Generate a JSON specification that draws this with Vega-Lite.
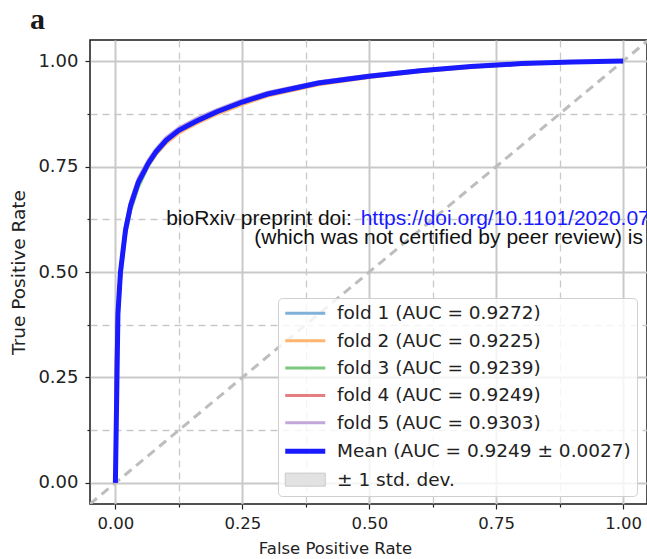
{
  "$schema": "https://vega.github.io/schema/vega-lite/v6.json",
  "width": 557,
  "height": 464,
  "autosize": {"type": "none"},
  "padding": {"left": 90, "top": 40, "right": 0, "bottom": 55},
  "background": "white",
  "config": {
    "view": {"stroke": "#1a1a1a", "strokeWidth": 1.5},
    "axis": {
      "domain": false,
      "grid": true,
      "gridColor": "#c9c9c9",
      "gridWidth": {"condition": {"test": "datum.value % 0.25 === 0", "value": 2}, "value": 1.3},
      "gridDash": {"condition": {"test": "datum.value % 0.25 === 0", "value": []}, "value": [7, 5]},
      "tickSize": {"condition": {"test": "datum.value % 0.25 === 0", "value": 5}, "value": 3},
      "tickColor": "#222222",
      "tickWidth": 1.2,
      "labelExpr": "datum.value % 0.25 === 0 ? format(datum.value, '.2f') : ''",
      "labelOverlap": false,
      "labelFlush": false,
      "labelFont": "DejaVu Sans",
      "labelColor": "#222222",
      "titleFont": "DejaVu Sans",
      "titleFontSize": 16.5,
      "titleFontWeight": "normal",
      "titleColor": "#222222"
    }
  },
  "datasets": {
    "diag": [{"v": -0.05}, {"v": 1.05}],
    "notes": [{"t": "x"}],
    "folds": [
      {"series": "fold 1 (AUC = 0.9272)", "fpr": 0, "tpr": 0},
      {"series": "fold 1 (AUC = 0.9272)", "fpr": 0.001, "tpr": 0.22},
      {"series": "fold 1 (AUC = 0.9272)", "fpr": 0.002, "tpr": 0.3},
      {"series": "fold 1 (AUC = 0.9272)", "fpr": 0.005, "tpr": 0.4},
      {"series": "fold 1 (AUC = 0.9272)", "fpr": 0.01, "tpr": 0.5},
      {"series": "fold 1 (AUC = 0.9272)", "fpr": 0.015, "tpr": 0.552},
      {"series": "fold 1 (AUC = 0.9272)", "fpr": 0.02, "tpr": 0.602},
      {"series": "fold 1 (AUC = 0.9272)", "fpr": 0.03, "tpr": 0.66},
      {"series": "fold 1 (AUC = 0.9272)", "fpr": 0.045, "tpr": 0.714},
      {"series": "fold 1 (AUC = 0.9272)", "fpr": 0.065, "tpr": 0.76},
      {"series": "fold 1 (AUC = 0.9272)", "fpr": 0.08, "tpr": 0.787},
      {"series": "fold 1 (AUC = 0.9272)", "fpr": 0.1, "tpr": 0.814},
      {"series": "fold 1 (AUC = 0.9272)", "fpr": 0.125, "tpr": 0.838},
      {"series": "fold 1 (AUC = 0.9272)", "fpr": 0.16, "tpr": 0.86},
      {"series": "fold 1 (AUC = 0.9272)", "fpr": 0.2, "tpr": 0.882},
      {"series": "fold 1 (AUC = 0.9272)", "fpr": 0.25, "tpr": 0.905},
      {"series": "fold 1 (AUC = 0.9272)", "fpr": 0.3, "tpr": 0.924},
      {"series": "fold 1 (AUC = 0.9272)", "fpr": 0.4, "tpr": 0.949},
      {"series": "fold 1 (AUC = 0.9272)", "fpr": 0.5, "tpr": 0.965},
      {"series": "fold 1 (AUC = 0.9272)", "fpr": 0.6, "tpr": 0.978},
      {"series": "fold 1 (AUC = 0.9272)", "fpr": 0.7, "tpr": 0.987},
      {"series": "fold 1 (AUC = 0.9272)", "fpr": 0.8, "tpr": 0.994},
      {"series": "fold 1 (AUC = 0.9272)", "fpr": 0.9, "tpr": 0.998},
      {"series": "fold 1 (AUC = 0.9272)", "fpr": 1.0, "tpr": 1.0},
      {"series": "fold 2 (AUC = 0.9225)", "fpr": 0, "tpr": 0},
      {"series": "fold 2 (AUC = 0.9225)", "fpr": 0.001, "tpr": 0.23},
      {"series": "fold 2 (AUC = 0.9225)", "fpr": 0.002, "tpr": 0.31},
      {"series": "fold 2 (AUC = 0.9225)", "fpr": 0.005, "tpr": 0.41},
      {"series": "fold 2 (AUC = 0.9225)", "fpr": 0.01, "tpr": 0.5},
      {"series": "fold 2 (AUC = 0.9225)", "fpr": 0.015, "tpr": 0.548},
      {"series": "fold 2 (AUC = 0.9225)", "fpr": 0.02, "tpr": 0.594},
      {"series": "fold 2 (AUC = 0.9225)", "fpr": 0.03, "tpr": 0.65},
      {"series": "fold 2 (AUC = 0.9225)", "fpr": 0.045, "tpr": 0.705},
      {"series": "fold 2 (AUC = 0.9225)", "fpr": 0.065, "tpr": 0.751},
      {"series": "fold 2 (AUC = 0.9225)", "fpr": 0.08, "tpr": 0.778},
      {"series": "fold 2 (AUC = 0.9225)", "fpr": 0.1, "tpr": 0.805},
      {"series": "fold 2 (AUC = 0.9225)", "fpr": 0.125, "tpr": 0.829},
      {"series": "fold 2 (AUC = 0.9225)", "fpr": 0.16, "tpr": 0.852},
      {"series": "fold 2 (AUC = 0.9225)", "fpr": 0.2, "tpr": 0.874},
      {"series": "fold 2 (AUC = 0.9225)", "fpr": 0.25, "tpr": 0.897},
      {"series": "fold 2 (AUC = 0.9225)", "fpr": 0.3, "tpr": 0.917},
      {"series": "fold 2 (AUC = 0.9225)", "fpr": 0.4, "tpr": 0.944},
      {"series": "fold 2 (AUC = 0.9225)", "fpr": 0.5, "tpr": 0.961},
      {"series": "fold 2 (AUC = 0.9225)", "fpr": 0.6, "tpr": 0.975},
      {"series": "fold 2 (AUC = 0.9225)", "fpr": 0.7, "tpr": 0.985},
      {"series": "fold 2 (AUC = 0.9225)", "fpr": 0.8, "tpr": 0.993},
      {"series": "fold 2 (AUC = 0.9225)", "fpr": 0.9, "tpr": 0.997},
      {"series": "fold 2 (AUC = 0.9225)", "fpr": 1.0, "tpr": 1.0},
      {"series": "fold 3 (AUC = 0.9239)", "fpr": 0, "tpr": 0},
      {"series": "fold 3 (AUC = 0.9239)", "fpr": 0.001, "tpr": 0.2},
      {"series": "fold 3 (AUC = 0.9239)", "fpr": 0.002, "tpr": 0.28},
      {"series": "fold 3 (AUC = 0.9239)", "fpr": 0.005, "tpr": 0.38},
      {"series": "fold 3 (AUC = 0.9239)", "fpr": 0.01, "tpr": 0.48},
      {"series": "fold 3 (AUC = 0.9239)", "fpr": 0.015, "tpr": 0.535},
      {"series": "fold 3 (AUC = 0.9239)", "fpr": 0.02, "tpr": 0.588},
      {"series": "fold 3 (AUC = 0.9239)", "fpr": 0.03, "tpr": 0.645},
      {"series": "fold 3 (AUC = 0.9239)", "fpr": 0.045, "tpr": 0.7},
      {"series": "fold 3 (AUC = 0.9239)", "fpr": 0.065, "tpr": 0.752},
      {"series": "fold 3 (AUC = 0.9239)", "fpr": 0.08, "tpr": 0.781},
      {"series": "fold 3 (AUC = 0.9239)", "fpr": 0.1, "tpr": 0.809},
      {"series": "fold 3 (AUC = 0.9239)", "fpr": 0.125, "tpr": 0.834},
      {"series": "fold 3 (AUC = 0.9239)", "fpr": 0.16, "tpr": 0.856},
      {"series": "fold 3 (AUC = 0.9239)", "fpr": 0.2, "tpr": 0.878},
      {"series": "fold 3 (AUC = 0.9239)", "fpr": 0.25, "tpr": 0.901},
      {"series": "fold 3 (AUC = 0.9239)", "fpr": 0.3, "tpr": 0.921},
      {"series": "fold 3 (AUC = 0.9239)", "fpr": 0.4, "tpr": 0.947},
      {"series": "fold 3 (AUC = 0.9239)", "fpr": 0.5, "tpr": 0.963},
      {"series": "fold 3 (AUC = 0.9239)", "fpr": 0.6, "tpr": 0.976},
      {"series": "fold 3 (AUC = 0.9239)", "fpr": 0.7, "tpr": 0.986},
      {"series": "fold 3 (AUC = 0.9239)", "fpr": 0.8, "tpr": 0.993},
      {"series": "fold 3 (AUC = 0.9239)", "fpr": 0.9, "tpr": 0.998},
      {"series": "fold 3 (AUC = 0.9239)", "fpr": 1.0, "tpr": 1.0},
      {"series": "fold 4 (AUC = 0.9249)", "fpr": 0, "tpr": 0},
      {"series": "fold 4 (AUC = 0.9249)", "fpr": 0.001, "tpr": 0.24},
      {"series": "fold 4 (AUC = 0.9249)", "fpr": 0.002, "tpr": 0.32},
      {"series": "fold 4 (AUC = 0.9249)", "fpr": 0.005, "tpr": 0.42},
      {"series": "fold 4 (AUC = 0.9249)", "fpr": 0.01, "tpr": 0.51},
      {"series": "fold 4 (AUC = 0.9249)", "fpr": 0.015, "tpr": 0.555},
      {"series": "fold 4 (AUC = 0.9249)", "fpr": 0.02, "tpr": 0.6},
      {"series": "fold 4 (AUC = 0.9249)", "fpr": 0.03, "tpr": 0.657},
      {"series": "fold 4 (AUC = 0.9249)", "fpr": 0.045, "tpr": 0.711},
      {"series": "fold 4 (AUC = 0.9249)", "fpr": 0.065, "tpr": 0.757},
      {"series": "fold 4 (AUC = 0.9249)", "fpr": 0.08, "tpr": 0.784},
      {"series": "fold 4 (AUC = 0.9249)", "fpr": 0.1, "tpr": 0.811},
      {"series": "fold 4 (AUC = 0.9249)", "fpr": 0.125, "tpr": 0.835},
      {"series": "fold 4 (AUC = 0.9249)", "fpr": 0.16, "tpr": 0.857},
      {"series": "fold 4 (AUC = 0.9249)", "fpr": 0.2, "tpr": 0.879},
      {"series": "fold 4 (AUC = 0.9249)", "fpr": 0.25, "tpr": 0.902},
      {"series": "fold 4 (AUC = 0.9249)", "fpr": 0.3, "tpr": 0.922},
      {"series": "fold 4 (AUC = 0.9249)", "fpr": 0.4, "tpr": 0.948},
      {"series": "fold 4 (AUC = 0.9249)", "fpr": 0.5, "tpr": 0.964},
      {"series": "fold 4 (AUC = 0.9249)", "fpr": 0.6, "tpr": 0.977},
      {"series": "fold 4 (AUC = 0.9249)", "fpr": 0.7, "tpr": 0.987},
      {"series": "fold 4 (AUC = 0.9249)", "fpr": 0.8, "tpr": 0.994},
      {"series": "fold 4 (AUC = 0.9249)", "fpr": 0.9, "tpr": 0.998},
      {"series": "fold 4 (AUC = 0.9249)", "fpr": 1.0, "tpr": 1.0},
      {"series": "fold 5 (AUC = 0.9303)", "fpr": 0, "tpr": 0},
      {"series": "fold 5 (AUC = 0.9303)", "fpr": 0.001, "tpr": 0.21},
      {"series": "fold 5 (AUC = 0.9303)", "fpr": 0.002, "tpr": 0.3},
      {"series": "fold 5 (AUC = 0.9303)", "fpr": 0.005, "tpr": 0.41},
      {"series": "fold 5 (AUC = 0.9303)", "fpr": 0.01, "tpr": 0.51},
      {"series": "fold 5 (AUC = 0.9303)", "fpr": 0.015, "tpr": 0.56},
      {"series": "fold 5 (AUC = 0.9303)", "fpr": 0.02, "tpr": 0.61},
      {"series": "fold 5 (AUC = 0.9303)", "fpr": 0.03, "tpr": 0.668},
      {"series": "fold 5 (AUC = 0.9303)", "fpr": 0.045, "tpr": 0.722},
      {"series": "fold 5 (AUC = 0.9303)", "fpr": 0.065, "tpr": 0.766},
      {"series": "fold 5 (AUC = 0.9303)", "fpr": 0.08, "tpr": 0.792},
      {"series": "fold 5 (AUC = 0.9303)", "fpr": 0.1, "tpr": 0.819},
      {"series": "fold 5 (AUC = 0.9303)", "fpr": 0.125, "tpr": 0.842},
      {"series": "fold 5 (AUC = 0.9303)", "fpr": 0.16, "tpr": 0.864},
      {"series": "fold 5 (AUC = 0.9303)", "fpr": 0.2, "tpr": 0.885},
      {"series": "fold 5 (AUC = 0.9303)", "fpr": 0.25, "tpr": 0.908},
      {"series": "fold 5 (AUC = 0.9303)", "fpr": 0.3, "tpr": 0.926},
      {"series": "fold 5 (AUC = 0.9303)", "fpr": 0.4, "tpr": 0.951},
      {"series": "fold 5 (AUC = 0.9303)", "fpr": 0.5, "tpr": 0.967},
      {"series": "fold 5 (AUC = 0.9303)", "fpr": 0.6, "tpr": 0.979},
      {"series": "fold 5 (AUC = 0.9303)", "fpr": 0.7, "tpr": 0.988},
      {"series": "fold 5 (AUC = 0.9303)", "fpr": 0.8, "tpr": 0.995},
      {"series": "fold 5 (AUC = 0.9303)", "fpr": 0.9, "tpr": 0.998},
      {"series": "fold 5 (AUC = 0.9303)", "fpr": 1.0, "tpr": 1.0}
    ],
    "mean": [
      {"fpr": 0, "tpr": 0, "lo": 0, "hi": 0},
      {"fpr": 0.005, "tpr": 0.4, "lo": 0.385, "hi": 0.415},
      {"fpr": 0.01, "tpr": 0.5, "lo": 0.49, "hi": 0.51},
      {"fpr": 0.02, "tpr": 0.6, "lo": 0.592, "hi": 0.608},
      {"fpr": 0.03, "tpr": 0.658, "lo": 0.65, "hi": 0.666},
      {"fpr": 0.045, "tpr": 0.712, "lo": 0.705, "hi": 0.719},
      {"fpr": 0.065, "tpr": 0.758, "lo": 0.752, "hi": 0.764},
      {"fpr": 0.08, "tpr": 0.785, "lo": 0.779, "hi": 0.791},
      {"fpr": 0.1, "tpr": 0.812, "lo": 0.806, "hi": 0.818},
      {"fpr": 0.125, "tpr": 0.836, "lo": 0.831, "hi": 0.841},
      {"fpr": 0.16, "tpr": 0.858, "lo": 0.853, "hi": 0.863},
      {"fpr": 0.2, "tpr": 0.88, "lo": 0.875, "hi": 0.885},
      {"fpr": 0.25, "tpr": 0.903, "lo": 0.898, "hi": 0.908},
      {"fpr": 0.3, "tpr": 0.922, "lo": 0.918, "hi": 0.926},
      {"fpr": 0.4, "tpr": 0.948, "lo": 0.945, "hi": 0.951},
      {"fpr": 0.5, "tpr": 0.964, "lo": 0.962, "hi": 0.966},
      {"fpr": 0.6, "tpr": 0.977, "lo": 0.975, "hi": 0.979},
      {"fpr": 0.7, "tpr": 0.987, "lo": 0.986, "hi": 0.988},
      {"fpr": 0.8, "tpr": 0.994, "lo": 0.993, "hi": 0.995},
      {"fpr": 0.9, "tpr": 0.998, "lo": 0.997, "hi": 0.999},
      {"fpr": 1.0, "tpr": 1.0, "lo": 1.0, "hi": 1.0}
    ]
  },
  "layer": [
    {
      "data": {"name": "diag"},
      "mark": {"type": "line", "clip": true, "color": "#bdbdbd", "strokeWidth": 3, "strokeDash": [9, 6]},
      "encoding": {
        "x": {"field": "v", "type": "quantitative",
          "scale": {"domain": [-0.05, 1.047], "nice": false, "zero": false},
          "axis": {"title": "False Positive Rate", "values": [0, 0.125, 0.25, 0.375, 0.5, 0.625, 0.75, 0.875, 1], "labelFontSize": 16.5, "labelPadding": 6, "titleX": 245, "titleY": 49, "titleBaseline": "alphabetic"}},
        "y": {"field": "v", "type": "quantitative",
          "scale": {"domain": [-0.05, 1.05], "nice": false, "zero": false},
          "axis": {"title": "True Positive Rate", "values": [0, 0.125, 0.25, 0.375, 0.5, 0.625, 0.75, 0.875, 1], "labelFontSize": 18, "labelPadding": 7, "titleFontSize": 18.5, "titleX": -66, "titleBaseline": "alphabetic"}}
      }
    },
    {
      "data": {"name": "folds"},
      "mark": {"type": "line", "strokeWidth": 3},
      "encoding": {
        "x": {"field": "fpr", "type": "quantitative"},
        "y": {"field": "tpr", "type": "quantitative"},
        "color": {"field": "series", "type": "nominal",
          "scale": {
            "domain": ["fold 1 (AUC = 0.9272)", "fold 2 (AUC = 0.9225)", "fold 3 (AUC = 0.9239)", "fold 4 (AUC = 0.9249)", "fold 5 (AUC = 0.9303)", "Mean (AUC = 0.9249 ± 0.0027)", "± 1 std. dev."],
            "range": ["#7fb1d9", "#ffb46f", "#7dc87d", "#e67e7f", "#c2a7d9", "#1a1aff", "#c9c9c9"]
          },
          "legend": {
            "title": null,
            "orient": "none",
            "legendX": 188,
            "legendY": 258,
            "padding": 6,
            "rowPadding": 8.4,
            "fillColor": "rgba(255,255,255,0.8)",
            "strokeColor": "#d0d0d0",
            "cornerRadius": 4,
            "symbolType": "M-1.6,0H6.4",
            "symbolSize": 100,
            "symbolStrokeWidth": 3,
            "labelOffset": 34.5,
            "labelFont": "DejaVu Sans",
            "labelFontSize": 18.5,
            "labelColor": "#222222",
            "labelLimit": 400,
            "encode": {
              "symbols": {
                "update": {
                  "shape": {"signal": "datum.value === '± 1 std. dev.' ? 'M-1.6,-1.3H6.4V1.3H-1.6Z' : 'M-1.6,0H6.4'"},
                  "fill": {"signal": "datum.value === '± 1 std. dev.' ? '#e2e2e2' : 'transparent'"},
                  "strokeWidth": {"signal": "datum.value === '± 1 std. dev.' ? 1 : (datum.value === 'Mean (AUC = 0.9249 ± 0.0027)' ? 5 : 3)"}
                }
              }
            }
          }
        }
      }
    },
    {
      "data": {"name": "mean"},
      "mark": {"type": "area", "opacity": 0.6, "color": "#c9c9c9"},
      "encoding": {
        "x": {"field": "fpr", "type": "quantitative"},
        "y": {"field": "lo", "type": "quantitative"},
        "y2": {"field": "hi"}
      }
    },
    {
      "data": {"name": "mean"},
      "mark": {"type": "line", "strokeWidth": 5, "color": "#1a1aff"},
      "encoding": {
        "x": {"field": "fpr", "type": "quantitative"},
        "y": {"field": "tpr", "type": "quantitative"}
      }
    },
    {
      "data": {"name": "notes"},
      "mark": {"type": "text", "align": "left", "baseline": "alphabetic", "font": "Liberation Serif", "fontSize": 30, "fontWeight": "bold", "color": "#1a1a1a", "text": "a"},
      "encoding": {
        "x": {"datum": -0.168, "type": "quantitative"},
        "y": {"datum": 1.076, "type": "quantitative"}
      }
    },
    {
      "data": {"name": "notes"},
      "mark": {"type": "text", "align": "left", "baseline": "alphabetic", "font": "Liberation Sans", "fontSize": 21, "color": "#111111", "text": "bioRxiv preprint doi: "},
      "encoding": {
        "x": {"datum": 0.1, "type": "quantitative"},
        "y": {"datum": 0.612, "type": "quantitative"}
      }
    },
    {
      "data": {"name": "notes"},
      "mark": {"type": "text", "align": "left", "baseline": "alphabetic", "font": "Liberation Sans", "fontSize": 21, "color": "#1a1aff", "text": "https://doi.org/10.1101/2020.07"},
      "encoding": {
        "x": {"datum": 0.483, "type": "quantitative"},
        "y": {"datum": 0.612, "type": "quantitative"}
      }
    },
    {
      "data": {"name": "notes"},
      "mark": {"type": "text", "align": "right", "baseline": "alphabetic", "font": "Liberation Sans", "fontSize": 21, "color": "#111111", "text": "(which was not certified by peer review) is"},
      "encoding": {
        "x": {"datum": 1.039, "type": "quantitative"},
        "y": {"datum": 0.567, "type": "quantitative"}
      }
    }
  ]
}
